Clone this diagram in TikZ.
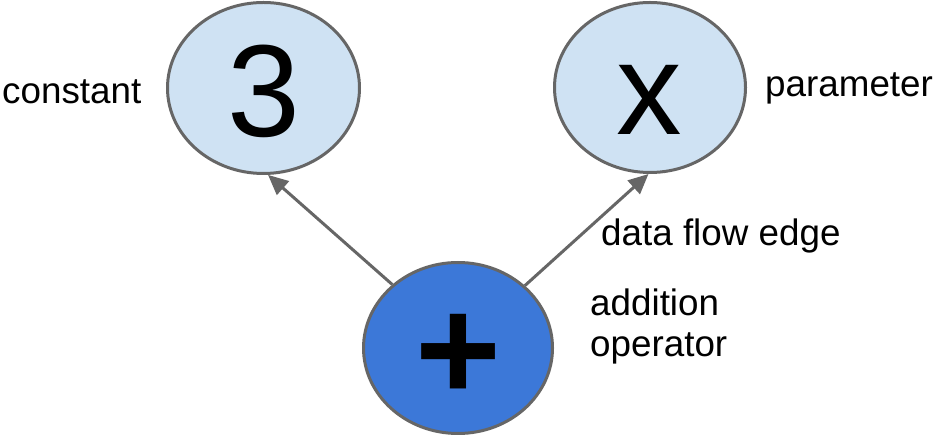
\documentclass[tikz,border=0pt]{standalone}
\usepackage{fontspec}
\setmainfont{Liberation Sans}
\usetikzlibrary{arrows.meta,shapes.geometric}
\definecolor{lightnode}{HTML}{CFE2F3}
\definecolor{opnode}{HTML}{3C78D8}
\definecolor{edgegrey}{HTML}{666666}
\tikzset{
  valnode/.style={ellipse, draw=edgegrey, line width=3pt, fill=lightnode, inner sep=0pt},
  opnodestyle/.style={ellipse, draw=edgegrey, line width=3pt, fill=opnode, inner sep=0pt},
  bigsym/.style={inner sep=0pt, anchor=base, font=\fontsize{131}{131}\selectfont},
  caption/.style={inner sep=0pt, anchor=base west, font=\fontsize{36.8}{41}\selectfont, align=left},
  flow/.style={draw=edgegrey, line width=3pt, -{Triangle[length=20pt,width=18pt]}}
}
\begin{document}
\begin{tikzpicture}[x=1pt,y=1pt]
\useasboundingbox (0,0) rectangle (934,436);
% operand and operator ellipses
\node[valnode, minimum width=192pt, minimum height=171pt] (c3) at (263.5,348) {};
\node[valnode, minimum width=191pt, minimum height=170pt] (cx) at (650,348.5) {};
\node[opnodestyle, minimum width=189pt, minimum height=171pt] (plus) at (458,88) {};
% symbols inside the ellipses
\node[bigsym] (t3) at (264,299) {3};
\node[bigsym] (tx) at (649.5,301) {x};
\node[inner sep=0pt, anchor=base] (tp) at (458,35) {\fontsize{147}{147}\selectfont\bfseries\smash{+}};
% data flow edges
\draw[flow] (plus.136) -- (c3.-87);
\draw[flow] (plus.43) -- (cx.-91);
% captions
\node[caption] (lconst) at (2,332) {constant};
\node[caption] (lparam) at (765,339) {parameter};
\node[caption] (ledge) at (601,190) {data flow edge};
\node[caption] (lop) at (590,79) {addition\\operator};
\end{tikzpicture}
\end{document}
